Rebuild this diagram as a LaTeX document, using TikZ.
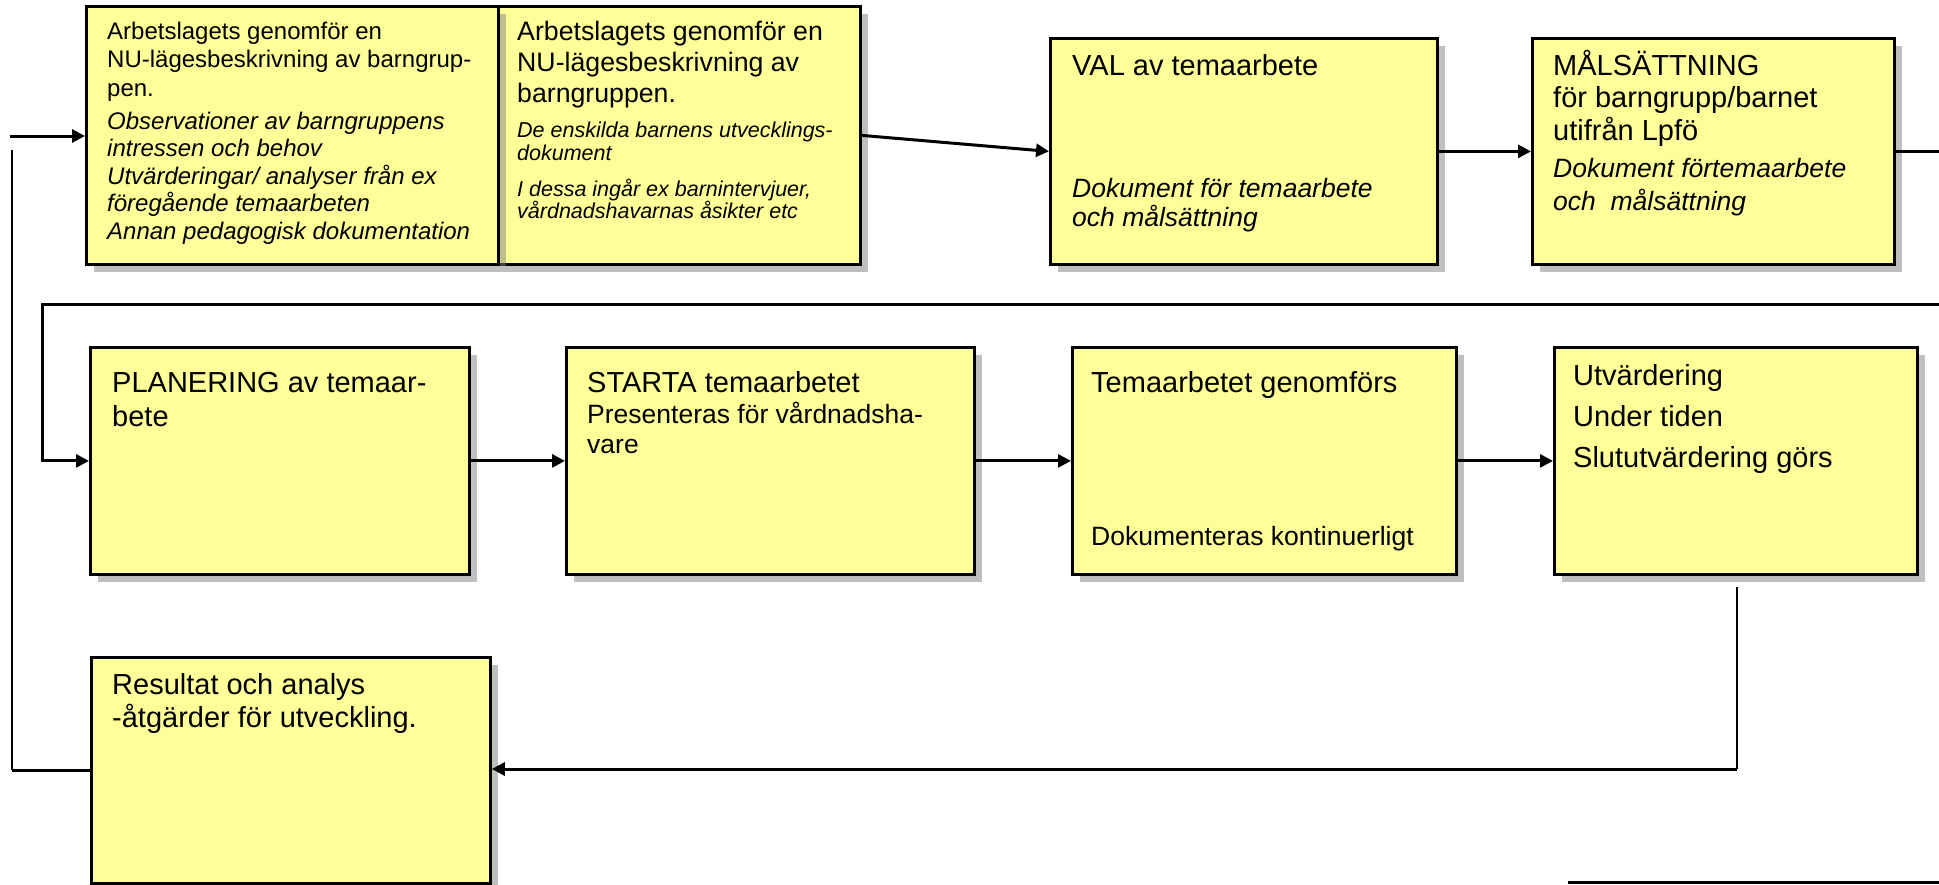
\documentclass[tikz,border=0pt]{standalone}
\usepackage{fontspec}
\setmainfont{Liberation Sans}
\usetikzlibrary{arrows.meta,shadows}
\definecolor{boxfill}{RGB}{255,255,153}
\newcommand{\fsz}[2]{\fontsize{#1}{#2}\selectfont}
\tikzset{
  box/.style={draw=black, line width=2.8pt, fill=boxfill, inner sep=0pt, anchor=north west,
    drop shadow={shadow xshift=8pt, shadow yshift=-8pt, fill=black!50, opacity=0.5}},
  conn/.style={line width=3pt, draw=black},
  arr/.style={conn, -{Triangle[length=13pt,width=13pt]}},
  thinline/.style={line width=1.4pt, draw=black},
  tx/.style={anchor=base west, align=left, inner sep=0pt, text=black},
}
\begin{document}
\begin{tikzpicture}[x=1pt,y=-1pt]
\useasboundingbox (0,0) rectangle (1939,884);
\clip (0,0) rectangle (1939,884);
% boxes
\node[box, minimum width=362pt, minimum height=258pt] (b2) at (497,5) {};
\node[box, minimum width=412pt, minimum height=258pt] (b1) at (85,5) {};
\node[box, minimum width=387pt, minimum height=226pt] (val) at (1049,37) {};
\node[box, minimum width=362pt, minimum height=226pt] (mal) at (1531,37) {};
\node[box, minimum width=379pt, minimum height=227pt] (plan) at (89,346) {};
\node[box, minimum width=408pt, minimum height=227pt] (start) at (565,346) {};
\node[box, minimum width=384pt, minimum height=227pt] (tema) at (1071,346) {};
\node[box, minimum width=363pt, minimum height=227pt] (utv) at (1553,346) {};
\node[box, minimum width=399pt, minimum height=226pt] (res) at (90,656) {};
% texts (anchor = baseline of the last line)
\node[tx, font=\fsz{24}{28.5}] (b1a) at (107,96) {Arbetslagets genomför en\\NU-lägesbeskrivning av barngrup-\\pen.};
\node[tx, font=\fsz{24}{27.5}\itshape] (b1b) at (107,239) {Observationer av barngruppens\\intressen och behov\\Utvärderingar/ analyser från ex\\föregående temaarbeten\\Annan pedagogisk dokumentation};
\node[tx, font=\fsz{26.7}{31}] (b2a) at (517,102) {Arbetslagets genomför en\\NU-lägesbeskrivning av\\barngruppen.};
\node[tx, font=\fsz{21.5}{23}\itshape] (b2b) at (517,160) {De enskilda barnens utvecklings-\\dokument};
\node[tx, font=\fsz{21.5}{22}\itshape] (b2c) at (517,218) {I dessa ingår ex barnintervjuer,\\vårdnadshavarnas åsikter etc};
\node[tx, font=\fsz{29}{33}] (vala) at (1072,75) {VAL av temaarbete};
\node[tx, font=\fsz{26.5}{28.5}\itshape] (valb) at (1072,226) {Dokument för temaarbete\\och målsättning};
\node[tx, font=\fsz{29}{32.5}] (mala) at (1553,140) {MÅLSÄTTNING\\för barngrupp/barnet\\utifrån Lpfö};
\node[tx, font=\fsz{26.5}{33}\itshape] (malb) at (1553,210) {Dokument förtemaarbete\\och\ \ målsättning};
\node[tx, font=\fsz{29}{34}] (plana) at (112,426) {PLANERING av temaar-\\bete};
\node[tx, font=\fsz{29}{33}] (sta) at (587,392) {STARTA temaarbetet};
\node[tx, font=\fsz{26.5}{30}] (stb) at (587,453) {Presenteras för vårdnadsha-\\vare};
\node[tx, font=\fsz{29}{33}] (temaa) at (1091,392) {Temaarbetet genomförs};
\node[tx, font=\fsz{26.5}{30}] (temab) at (1091,545) {Dokumenteras kontinuerligt};
\node[tx, font=\fsz{29}{41}] (utva) at (1573,467) {Utvärdering\\Under tiden\\Slututvärdering görs};
\node[tx, font=\fsz{29}{33}] (resa) at (112,727) {Resultat och analys\\-åtgärder för utveckling.};
% coordinates
\coordinate (in1) at (10,136);
\coordinate (r1) at (1960,304);
\coordinate (l1) at (42,304);
\coordinate (u1) at (1737,587);
\coordinate (u2) at (1737,769);
\coordinate (l2) at (12,150);
\coordinate (br1) at (1568,882);
\coordinate (br2) at (1945,882);
% connectors
\draw[arr] (in1) -- (in1 -| b1.west);
\draw[arr] (b2.east) -- (val.west);
\draw[arr] (val.east) -- (mal.west);
\draw[arr] (mal.east) -| (r1) -- (l1) |- (plan.west);
\draw[arr] (plan.east) -- (start.west);
\draw[arr] (start.east) -- (tema.west);
\draw[arr] (tema.east) -- (utv.west);
\draw[thinline] (u1) -- (u2);
\draw[arr] (u2) -- (u2 -| res.east);
\draw[thinline] (l2) -- (l2 |- res.west);
\draw[conn] (l2 |- res.west) -- (res.west);
\draw[line width=3pt] (br1) -- (br2);
\end{tikzpicture}
\end{document}
